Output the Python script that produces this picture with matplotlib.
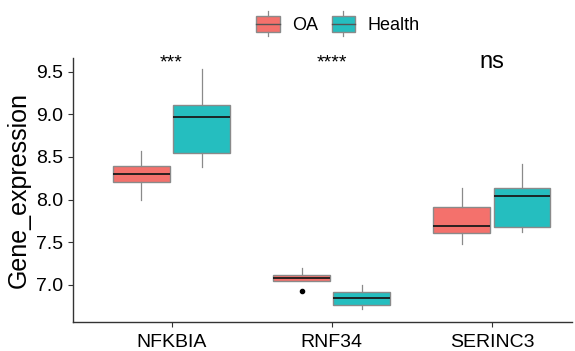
import matplotlib
matplotlib.use("Agg")
import matplotlib.pyplot as plt
from matplotlib.patches import Rectangle
from matplotlib.lines import Line2D
from matplotlib.legend_handler import HandlerBase

plt.rcParams['font.family'] = ['Liberation Sans', 'DejaVu Sans']

genes = ["NFKBIA", "RNF34", "SERINC3"]
groups = ["OA", "Health"]
colors = ["#F4716C", "#25BEBF"]

# five-number summaries: [NFKBIA, RNF34, SERINC3]
oa_whislo = [7.99, 7.05, 7.48]
oa_q1 = [8.21, 7.05, 7.61]
oa_med = [8.30, 7.086, 7.688]
oa_q3 = [8.393, 7.117, 7.914]
oa_whishi = [8.565, 7.196, 8.134]
oa_fliers = [[], [6.93], []]

hl_whislo = [8.385, 6.715, 7.62]
hl_q1 = [8.55, 6.77, 7.68]
hl_med = [8.97, 6.844, 8.04]
hl_q3 = [9.11, 6.914, 8.134]
hl_whishi = [9.535, 7.0, 8.419]
hl_fliers = [[], [], []]

signif = ["***", "****", "ns"]
signif_size = [14, 14, 17]

fig = plt.figure(figsize=(5.75, 3.51), dpi=100)
ax = fig.add_axes([73/575, 1-322/351, (572-73)/575, (322-58)/351])

def stats(wl, q1, med, q3, wh, fl):
    return [dict(whislo=a, q1=b, med=c, q3=d, whishi=e, fliers=f)
            for a, b, c, d, e, f in zip(wl, q1, med, q3, wh, fl)]

data = [stats(oa_whislo, oa_q1, oa_med, oa_q3, oa_whishi, oa_fliers),
        stats(hl_whislo, hl_q1, hl_med, hl_q3, hl_whishi, hl_fliers)]

offsets = [-0.1875, 0.1875]
width = 0.355
edge = "#8a8a8a"
for g in range(2):
    pos = [i + 1 + offsets[g] for i in range(len(genes))]
    ax.bxp(data[g], positions=pos, widths=width, patch_artist=True,
           showcaps=False,
           boxprops=dict(facecolor=colors[g], edgecolor=edge, linewidth=1.0),
           medianprops=dict(color="#1a1a1a", linewidth=1.3),
           whiskerprops=dict(color=edge, linewidth=0.9),
           flierprops=dict(marker='o', markerfacecolor='black',
                           markeredgecolor='black', markersize=3))

for i, s in enumerate(signif):
    ax.text(i + 1, 9.545, s, ha='center', va='baseline',
            fontsize=signif_size[i], color='black')

ax.set_xlim(0.385, 3.5)
ax.set_ylim(6.566, 9.66)
ax.set_xticks([1, 2, 3])
ax.set_xticklabels(genes)
ax.set_yticks([7.0, 7.5, 8.0, 8.5, 9.0, 9.5])
ax.set_yticklabels(["7.0", "7.5", "8.0", "8.5", "9.0", "9.5"])
ax.tick_params(axis='both', labelsize=14, length=3.5, width=0.8,
               colors='#333333', labelcolor='black')
ax.tick_params(axis='x', pad=5)
ax.set_ylabel("Gene_expression", fontsize=18, labelpad=4)
for side in ['top', 'right']:
    ax.spines[side].set_visible(False)
for side in ['left', 'bottom']:
    ax.spines[side].set_linewidth(1.0)
    ax.spines[side].set_color('#333333')


class BoxHandler(HandlerBase):
    def create_artists(self, legend, orig_handle, xdescent, ydescent,
                       width, height, fontsize, trans):
        fc = orig_handle.get_facecolor()
        r = Rectangle((-xdescent, -ydescent), width, height, facecolor=fc,
                      edgecolor=edge, linewidth=1.0, transform=trans)
        cx = -xdescent + width / 2
        m = Line2D([-xdescent, -xdescent + width],
                   [-ydescent + height / 2] * 2, color='#555555',
                   linewidth=1.0, transform=trans)
        w1 = Line2D([cx, cx], [-ydescent + height, -ydescent + height * 1.3],
                    color=edge, linewidth=0.9, transform=trans)
        w2 = Line2D([cx, cx], [-ydescent, -ydescent - height * 0.3],
                    color=edge, linewidth=0.9, transform=trans)
        return [r, m, w1, w2]

handles = [Rectangle((0, 0), 1, 1, facecolor=c) for c in colors]
fig.legend(handles, groups, handler_map={Rectangle: BoxHandler()},
           loc='center', bbox_to_anchor=(338/575, 1-25/351), ncol=2,
           frameon=False, fontsize=13, handlelength=1.28, handleheight=0.95,
           columnspacing=0.75, handletextpad=0.7)

fig.savefig("out.png", dpi=100)
